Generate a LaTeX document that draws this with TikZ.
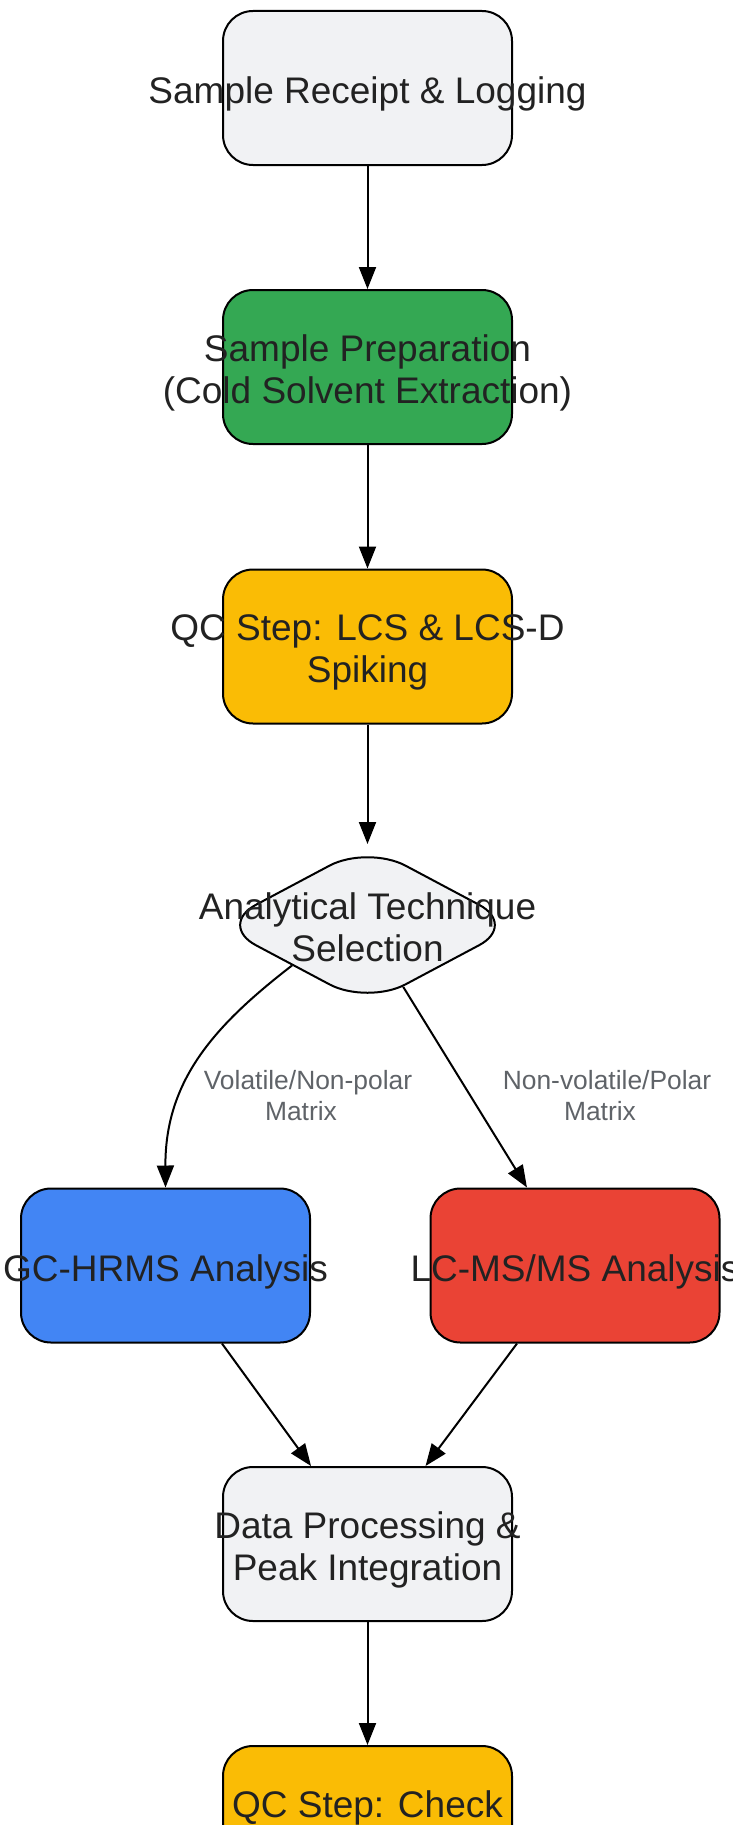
\documentclass[tikz,border=0pt]{standalone}
\usepackage{fontspec}
\setmainfont{Liberation Sans}
\usetikzlibrary{arrows.meta,shapes.geometric}
\definecolor{gfill}{HTML}{F1F2F4}
\definecolor{gnfill}{HTML}{34A853}
\definecolor{ylfill}{HTML}{FABC05}
\definecolor{blfill}{HTML}{4285F4}
\definecolor{rdfill}{HTML}{EA4335}
\definecolor{txtc}{HTML}{222222}
\definecolor{lblc}{HTML}{5F6368}
\begin{document}
\begin{tikzpicture}[x=1pt,y=-1pt,
  box/.style={draw=black, line width=2pt, rounded corners=30pt, minimum width=289pt, minimum height=154pt, inner sep=0pt},
  txt/.style={text=txtc, font=\fontsize{37}{42}\selectfont, align=center, inner sep=0pt, yshift=-6pt},
  elabel/.style={text=lblc, font=\fontsize{26.4}{31}\selectfont, align=center, inner sep=0pt},
  arr/.style={draw=black, line width=2pt, -{Triangle[length=22pt,width=17pt]}}]
\useasboundingbox (0,0) rectangle (732,1825);
\clip (0,0) rectangle (732,1825);

\node[box, fill=gfill, label={[txt]center:{Sample Receipt \& Logging}}] (a) at (367.5,88) {};
\node[box, fill=gnfill, label={[txt]center:{Sample Preparation\\(Cold Solvent Extraction)}}] (b) at (367.5,367) {};
\node[box, fill=ylfill, label={[txt]center:{QC Step: LCS \& LCS-D\\Spiking}}] (c) at (367.5,646.5) {};
\node[diamond, draw=black, line width=2pt, fill=gfill, rounded corners=43pt, minimum width=300pt, minimum height=160pt, inner sep=0pt,
  label={[txt,yshift=3.5pt]center:{Analytical Technique\\Selection}}] (d) at (367.5,925) {};
\node[box, fill=blfill, label={[txt]center:{GC-HRMS Analysis}}] (gc) at (165.5,1265.5) {};
\node[box, fill=rdfill, label={[txt]center:{LC-MS/MS Analysis}}] (lc) at (575,1265.5) {};
\node[box, fill=gfill, label={[txt]center:{Data Processing \&\\Peak Integration}}] (dp) at (367.5,1544) {};
\node[box, fill=ylfill, label={[txt,yshift=21pt]center:{QC Step: Check}}] (qc) at (367.5,1823) {};

\node[elabel] (l1) at (308,1096) {Volatile/Non-polar\\Matrix\hspace*{14pt}};
\node[elabel] (l2) at (607,1096) {Non-volatile/Polar\\Matrix\hspace*{14pt}};

\draw[arr] (a) -- (b);
\draw[arr] (b) -- (c);
\draw[arr] (c) -- (d);
\draw[arr] (d.south west) .. controls (215,1025) and (165,1080) .. (gc.north);
\draw[arr] (d.-60) -- (lc);
\draw[arr] (gc) -- (dp);
\draw[arr] (lc) -- (dp);
\draw[arr] (dp) -- (qc);
\end{tikzpicture}
\end{document}
